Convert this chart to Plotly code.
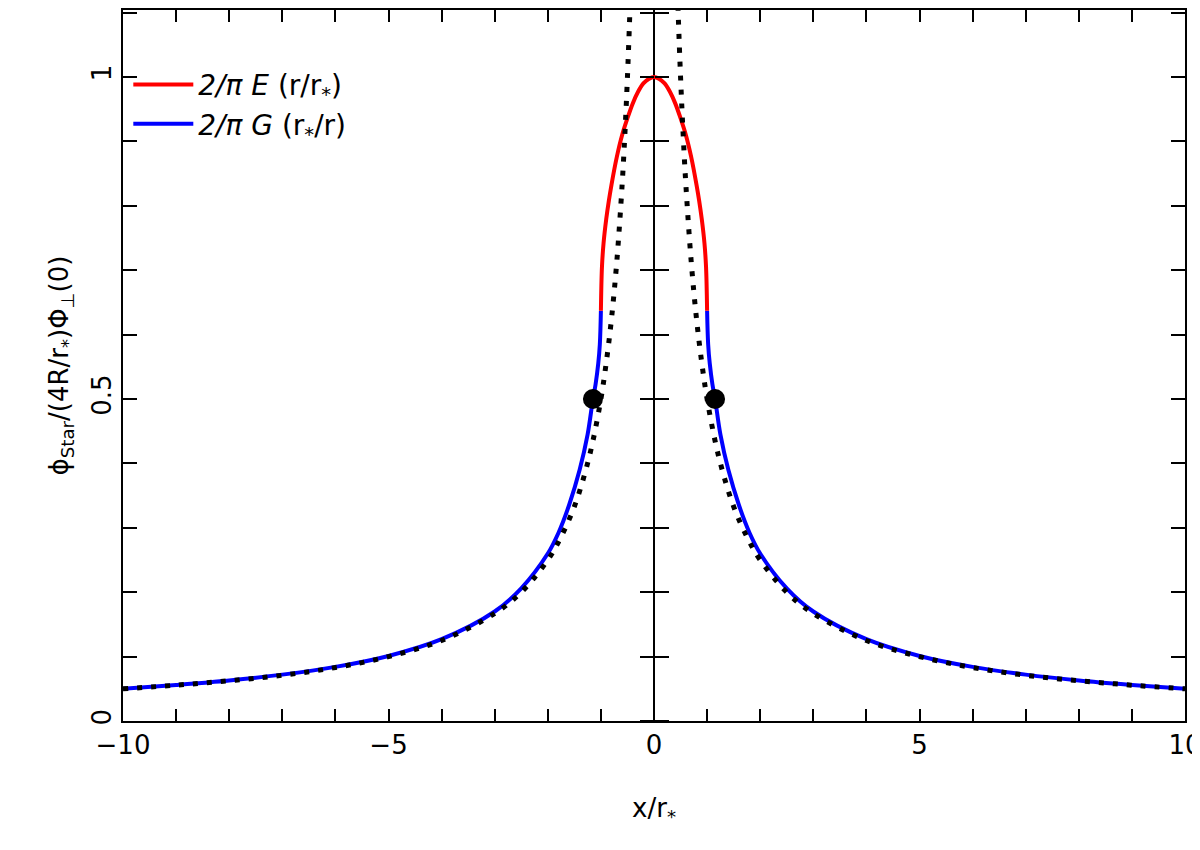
import plotly.graph_objects as go

# red branch, |x| <= 1
red_x = [0.0, 0.1, 0.2, 0.3, 0.4, 0.5, 0.6, 0.7, 0.8, 0.85, 0.9, 0.95, 0.98, 1.0]
red_y = [1.0, 0.997, 0.990, 0.977, 0.959, 0.936, 0.910, 0.876, 0.833, 0.808, 0.779, 0.742, 0.705, 0.637]

# blue branch, |x| >= 1
blue_x = [1.0, 1.02, 1.05, 1.1, 1.15, 1.25, 1.4, 1.6, 1.8, 2.0, 2.5, 3.0, 4.0, 5.0, 6.0, 7.0, 8.0, 9.0, 10.0]
blue_y = [0.637, 0.585, 0.555, 0.523, 0.50, 0.445, 0.39, 0.335, 0.292, 0.260, 0.206, 0.170, 0.127, 0.101, 0.084, 0.072, 0.063, 0.056, 0.050]

# dotted asymptote
dot_x = [0.45, 0.5, 0.55, 0.6, 0.7, 0.8, 0.9, 1.0, 1.15, 1.3, 1.5, 1.75, 2.0, 2.5, 3.0, 4.0, 5.0, 6.0, 7.0, 8.0, 9.0, 10.0]
dot_y = [1.111, 1.0, 0.909, 0.833, 0.714, 0.625, 0.556, 0.5, 0.435, 0.385, 0.333, 0.286, 0.25, 0.2, 0.167, 0.125, 0.1, 0.083, 0.071, 0.0625, 0.0556, 0.05]

# matching points
pt_x = [-1.15, 1.15]
pt_y = [0.5, 0.5]

fig = go.Figure()

def mirror(xs, ys):
    return [-v for v in xs[::-1]] + [None] + xs, ys[::-1] + [None] + ys

bx, by = mirror(blue_x, blue_y)
fig.add_trace(go.Scatter(x=bx, y=by, mode='lines', line=dict(color='blue', width=4, shape='spline'),
                         name='<i>2/π G</i> (r<sub>*</sub>/r)', legendrank=2))
rx = [-v for v in red_x[::-1]] + red_x[1:]
ry = red_y[::-1] + red_y[1:]
fig.add_trace(go.Scatter(x=rx, y=ry, mode='lines', line=dict(color='red', width=4, shape='spline'),
                         name='<i>2/π E</i> (r/r<sub>*</sub>)', legendrank=1))
dx, dy = mirror(dot_x, dot_y)
fig.add_trace(go.Scatter(x=dx, y=dy, mode='lines', line=dict(color='black', width=5, dash='5px,9px', shape='spline'),
                         showlegend=False))
fig.add_trace(go.Scatter(x=pt_x, y=pt_y, mode='markers', marker=dict(color='black', size=20),
                         showlegend=False))

tickfont = dict(family='DejaVu Sans', size=26, color='black')
fig.update_layout(
    width=1200, height=850,
    margin=dict(l=115, r=23, t=0, b=137),
    plot_bgcolor='white', paper_bgcolor='white',
    font=dict(family='DejaVu Sans', color='black'),
    legend=dict(x=0.005, y=0.93, xanchor='left', yanchor='top', font=dict(size=28),
                bgcolor='rgba(0,0,0,0)', itemwidth=60, tracegroupgap=60),
    xaxis=dict(range=[-10, 10], mirror='ticks', showline=True, linecolor='black', linewidth=2,
               ticks='inside', ticklen=12, tickwidth=2, tickcolor='black', dtick=5, tickfont=tickfont,
               minor=dict(ticks='inside', ticklen=12, dtick=1, tickcolor='black', tickwidth=2),
               showgrid=False, zeroline=True, zerolinecolor='black', zerolinewidth=2,
               title=dict(text='x/r<sub>*</sub>', font=dict(size=26), standoff=40)),
    yaxis=dict(range=[0, 1.104], mirror='ticks', showline=True, linecolor='black', linewidth=2,
               ticks='inside', ticklen=14, tickwidth=2, tickcolor='black', dtick=0.5, tickangle=-90,
               tickfont=tickfont, showgrid=False, zeroline=False,
               minor=dict(ticks='inside', ticklen=14, dtick=0.1, tickcolor='black', tickwidth=2),
               title=dict(text='ϕ<sub>Star</sub>/(4R/r<sub>*</sub>)Φ<sub>⊥</sub>(0)', font=dict(size=26), standoff=10)),
)
# ticks on the central line, both sides
for name, side in [('yaxis2', 'left'), ('yaxis3', 'right')]:
    fig.update_layout(**{name: dict(
        overlaying='y', anchor='free', position=0.5, side=side, range=[0, 1.104],
        ticks='outside', ticklen=14, tickwidth=2, tickcolor='black', dtick=0.5, showticklabels=False,
        showgrid=False, zeroline=False, showline=False,
        minor=dict(ticks='outside', ticklen=14, dtick=0.1, tickcolor='black', tickwidth=2))})
fig.add_trace(go.Scatter(x=[None], y=[None], yaxis='y2', showlegend=False))
fig.add_trace(go.Scatter(x=[None], y=[None], yaxis='y3', showlegend=False))

fig.write_html("out.html")
